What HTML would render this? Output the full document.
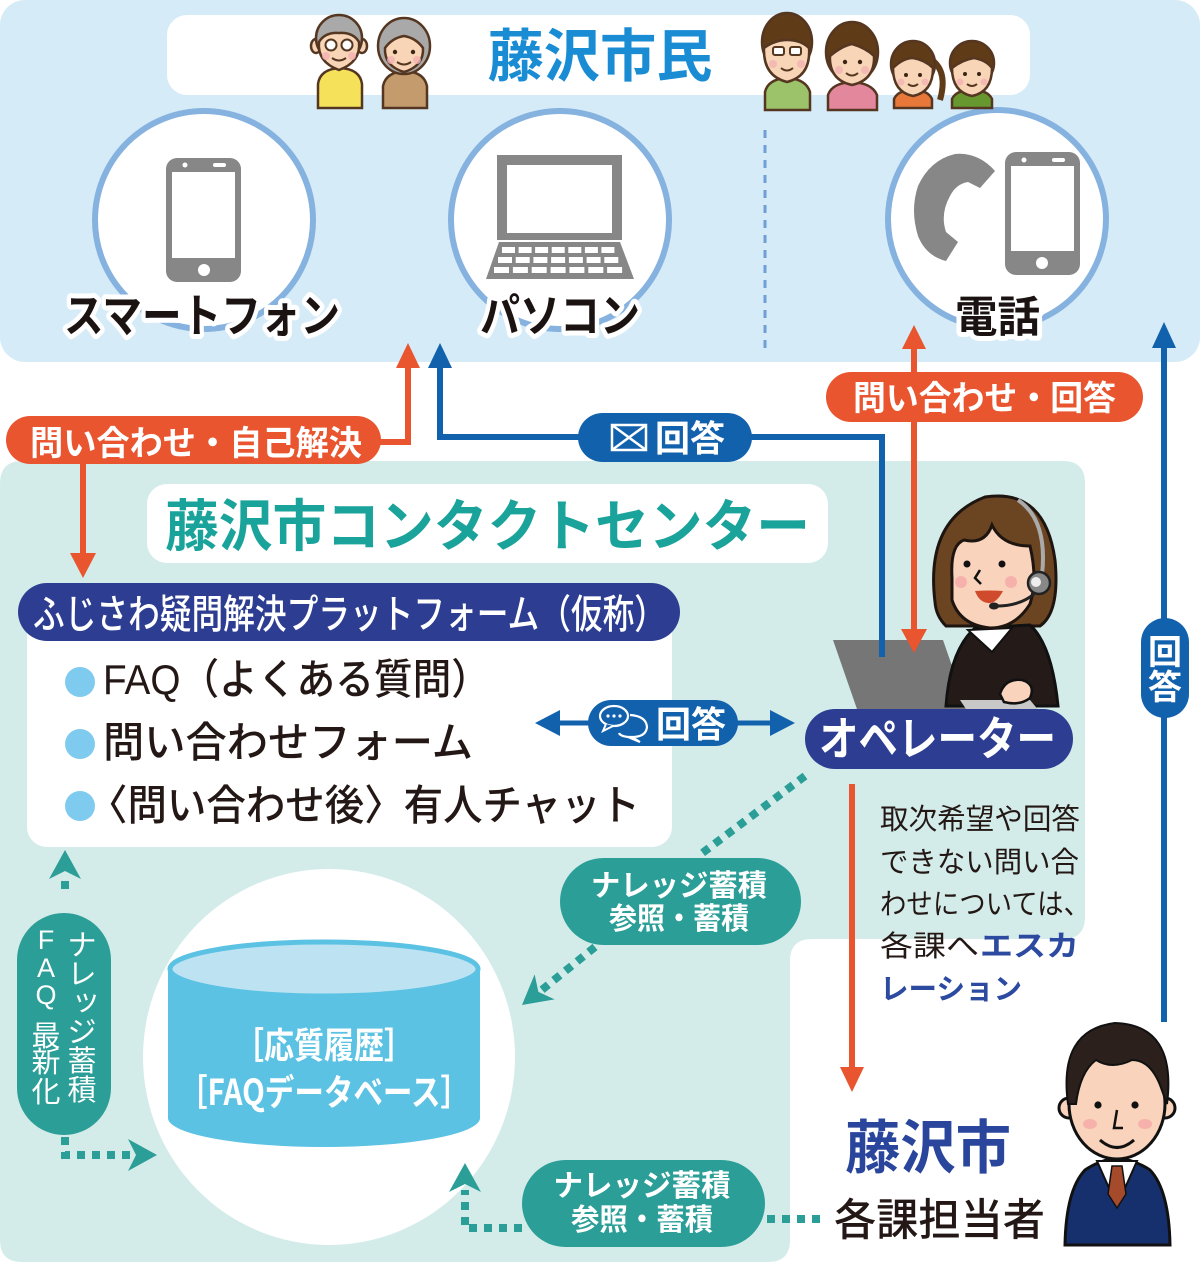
<!DOCTYPE html>
<html><head><meta charset="utf-8">
<style>
html,body{margin:0;padding:0;background:#fff;}
svg{display:block;}
text{font-family:"Liberation Sans","Noto Sans CJK JP",sans-serif;}
.j{font-family:"Noto Sans CJK JP",sans-serif;}
</style></head><body>
<svg width="1200" height="1264" viewBox="0 0 1200 1264" xmlns="http://www.w3.org/2000/svg">
<!-- TOP PANEL -->
<rect x="0" y="0" width="1200" height="362" rx="25" fill="#d5ebf8"/>
<rect x="167" y="15" width="863" height="80" rx="20" fill="#fff"/>
<text class="j" x="600" y="76" text-anchor="middle" font-size="57" font-weight="bold" fill="#1a8cd4" textLength="225" lengthAdjust="spacingAndGlyphs">藤沢市民</text>

<line x1="765" y1="130" x2="765" y2="350" stroke="#6f9fd6" stroke-width="3" stroke-dasharray="8 7"/>

<circle cx="204" cy="220" r="109" fill="#fff" stroke="#86b2e0" stroke-width="6"/>
<circle cx="560" cy="220" r="109" fill="#fff" stroke="#86b2e0" stroke-width="6"/>
<circle cx="997" cy="219" r="109" fill="#fff" stroke="#86b2e0" stroke-width="6"/>

<!-- smartphone icon -->
<rect x="166" y="158" width="75" height="124" rx="11" fill="#878787"/>
<rect x="172" y="172" width="63" height="86" fill="#fff"/>
<circle cx="204" cy="270" r="6" fill="#fff"/>
<circle cx="185" cy="165" r="2.5" fill="#fff"/>
<rect x="213" y="163" width="13" height="4" rx="2" fill="#fff"/>

<!-- laptop icon -->
<rect x="497" y="155" width="125" height="85" fill="#878787"/>
<rect x="507" y="165" width="105" height="68" fill="#fff"/>
<polygon points="499,242 620,242 634,279 486,279" fill="#878787"/>
<g fill="#fff">
<rect x="502" y="247" width="13" height="6"/><rect x="518.6" y="247" width="13" height="6"/><rect x="535.1" y="247" width="13" height="6"/><rect x="551.7" y="247" width="13" height="6"/><rect x="568.3" y="247" width="13" height="6"/><rect x="584.9" y="247" width="13" height="6"/><rect x="601.4" y="247" width="13" height="6"/>
<rect x="498" y="257" width="14" height="6"/><rect x="515.7" y="257" width="14" height="6"/><rect x="533.4" y="257" width="14" height="6"/><rect x="551.1" y="257" width="14" height="6"/><rect x="568.9" y="257" width="14" height="6"/><rect x="586.6" y="257" width="14" height="6"/><rect x="604.3" y="257" width="14" height="6"/>
<rect x="494" y="267" width="15" height="6"/><rect x="512.9" y="267" width="15" height="6"/><rect x="531.7" y="267" width="15" height="6"/><rect x="550.6" y="267" width="15" height="6"/><rect x="569.4" y="267" width="15" height="6"/><rect x="588.3" y="267" width="15" height="6"/><rect x="607.1" y="267" width="15" height="6"/>
</g>

<!-- phone icons -->
<path d="M995 171 L980 188 L968 182 Q956 184 950 196 Q940 214 946 232 L958 242 L946 261 Q926 256 918 236 Q910 210 918 186 Q930 160 955 154 Q978 152 995 171 Z" fill="#878787"/>
<rect x="1005" y="152" width="75" height="123" rx="11" fill="#878787"/>
<rect x="1011" y="166" width="63" height="85" fill="#fff"/>
<circle cx="1042" cy="263" r="6" fill="#fff"/>
<circle cx="1024" cy="160" r="2.5" fill="#fff"/>
<rect x="1052" y="158" width="13" height="4" rx="2" fill="#fff"/>

<!-- labels -->
<g font-weight="bold" fill="#1a1311" stroke="#fff" stroke-width="10" paint-order="stroke" stroke-linejoin="round" class="j">
<text class="j" x="64" y="332" font-size="46" textLength="276" lengthAdjust="spacingAndGlyphs">スマートフォン</text>
<text class="j" x="480" y="332" font-size="46" textLength="160" lengthAdjust="spacingAndGlyphs">パソコン</text>
<text class="j" x="955" y="332" font-size="43" textLength="85" lengthAdjust="spacingAndGlyphs">電話</text>
</g>

<!-- people top -->
<g stroke="#553620" stroke-width="2.5">
<path d="M318 108 L318 84 Q320 69 340 68 Q360 69 362 84 L362 108 Z" fill="#f6e25a"/>
<ellipse cx="316" cy="46" rx="5" ry="7" fill="#f9d5b8"/><ellipse cx="362" cy="46" rx="5" ry="7" fill="#f9d5b8"/>
<ellipse cx="339" cy="38" rx="23" ry="23" fill="#a9a9a9"/>
<path d="M319 42 Q325 32 339 33 Q353 32 359 42 Q361 62 339 70 Q317 62 319 42 Z" fill="#f9d5b8"/>
<circle cx="331" cy="45" r="5.5" fill="#fff" stroke-width="2"/><circle cx="347" cy="45" r="5.5" fill="#fff" stroke-width="2"/>
<path d="M332 58 Q339 63 346 58" fill="none" stroke-width="2"/>
<path d="M383 108 L383 86 Q386 72 405 71 Q424 72 427 86 L427 108 Z" fill="#c49b6d"/>
<ellipse cx="404" cy="46" rx="26" ry="28" fill="#a9a9a9"/>
<path d="M385 48 Q392 38 404 36 Q416 38 423 48 Q424 66 404 72 Q384 66 385 48 Z" fill="#f9d5b8"/>
<path d="M397 62 Q404 67 411 62" fill="none" stroke-width="2"/>
<path d="M765 110 L765 92 Q768 79 787 78 Q806 79 810 92 L810 110 Z" fill="#9cc36a"/>
<ellipse cx="787" cy="42" rx="25" ry="29" fill="#603b18"/>
<path d="M764 48 Q775 40 787 40 Q801 40 809 48 Q811 76 787 82 Q763 76 764 48 Z" fill="#f9d5b8"/>
<rect x="773" y="47" width="11" height="8" rx="2" fill="#fff" stroke-width="2"/><rect x="790" y="47" width="11" height="8" rx="2" fill="#fff" stroke-width="2"/>
<path d="M781 68 Q787 73 793 68" fill="none" stroke-width="2"/>
<path d="M828 110 L828 95 Q832 83 852 82 Q872 83 877 95 L877 110 Z" fill="#e3879c"/>
<ellipse cx="852" cy="52" rx="26" ry="30" fill="#603b18"/>
<path d="M830 56 Q842 46 852 44 Q866 48 874 56 Q875 80 852 85 Q829 80 830 56 Z" fill="#f9d5b8"/>
<path d="M846 73 Q852 78 858 73" fill="none" stroke-width="2"/>
<path d="M932 60 Q948 72 940 100" fill="none" stroke="#603b18" stroke-width="6"/>
<path d="M894 108 L894 99 Q898 90 913 90 Q928 90 932 99 L932 108 Z" fill="#e8773a"/>
<ellipse cx="913" cy="64" rx="22" ry="23" fill="#603b18"/>
<path d="M893 68 Q903 58 913 58 Q925 60 933 68 Q933 92 913 96 Q893 92 893 68 Z" fill="#f9d5b8"/>
<path d="M908 84 Q913 88 918 84" fill="none" stroke-width="2"/>
<path d="M952 108 L952 99 Q956 90 972 90 Q988 90 992 99 L992 108 Z" fill="#66982f"/>
<ellipse cx="972" cy="63" rx="22" ry="22" fill="#603b18"/>
<path d="M952 68 Q962 60 974 58 Q986 60 992 68 Q992 92 972 96 Q952 92 952 68 Z" fill="#f9d5b8"/>
<path d="M967 84 Q972 88 977 84" fill="none" stroke-width="2"/>
</g>
<g fill="#3a2414">
<circle cx="395" cy="52" r="2.2"/><circle cx="413" cy="52" r="2.2"/>
<circle cx="845" cy="62" r="2.2"/><circle cx="860" cy="62" r="2.2"/>
<circle cx="906" cy="75" r="2"/><circle cx="920" cy="75" r="2"/>
<circle cx="965" cy="74" r="2"/><circle cx="979" cy="74" r="2"/>
</g>
<g fill="#f5b3b3" opacity="0.8">
<circle cx="326" cy="56" r="4"/><circle cx="352" cy="56" r="4"/>
<circle cx="391" cy="60" r="4"/><circle cx="417" cy="60" r="4"/>
<circle cx="773" cy="64" r="4"/><circle cx="801" cy="64" r="4"/>
<circle cx="839" cy="70" r="4"/><circle cx="865" cy="70" r="4"/>
<circle cx="901" cy="82" r="3.5"/><circle cx="925" cy="82" r="3.5"/>
<circle cx="960" cy="82" r="3.5"/><circle cx="984" cy="82" r="3.5"/>
</g>

<!-- CONTACT CENTER PANEL -->
<path d="M0 484 Q0 461 22 461 L1063 461 Q1085 461 1085 483 L1085 917 Q1085 939 1063 939 L812 939 Q790 939 790 961 L790 1240 Q790 1262 768 1262 L22 1262 Q0 1262 0 1240 Z" fill="#d4ece9"/>
<rect x="147" y="484" width="681" height="79" rx="20" fill="#fff"/>
<text class="j" x="165" y="546" font-size="56" font-weight="bold" fill="#1aa39a" textLength="645" lengthAdjust="spacingAndGlyphs">藤沢市コンタクトセンター</text>

<rect x="27" y="612" width="645" height="235" rx="20" fill="#fff"/>
<rect x="18" y="583" width="662" height="58" rx="29" fill="#2d3e92"/>
<text class="j" x="33" y="628" font-size="40" fill="#fff" font-weight="500" textLength="633" lengthAdjust="spacingAndGlyphs">ふじさわ疑問解決プラットフォーム（仮称）</text>

<circle cx="80" cy="682" r="15" fill="#7fcbef"/>
<circle cx="80" cy="744" r="15" fill="#7fcbef"/>
<circle cx="80" cy="806" r="15" fill="#7fcbef"/>
<g font-size="42" fill="#231815" font-weight="500">
<text x="103" y="694" textLength="387" lengthAdjust="spacingAndGlyphs">FAQ（よくある質問）</text>
<text class="j" x="103" y="757" textLength="370" lengthAdjust="spacingAndGlyphs">問い合わせフォーム</text>
<text class="j" x="88" y="820" textLength="552" lengthAdjust="spacingAndGlyphs">〈問い合わせ後〉有人チャット</text>
</g>

<!-- operator -->
<path d="M935 602 Q925 520 985 497 Q1045 488 1055 560 Q1060 612 1040 626 L946 626 Q936 616 935 602 Z" fill="#6b4522" stroke="#1e1410" stroke-width="3"/>
<polygon points="833,640 943,640 968,712 858,712" fill="#767676"/>
<path d="M946 706 Q950 650 975 628 L1030 625 Q1052 645 1058 706 Z" fill="#241a17" stroke="#111" stroke-width="3"/>
<polygon points="968,630 1012,628 992,652" fill="#fff" stroke="#111" stroke-width="2"/>
<path d="M952 578 Q950 545 964 540 Q985 545 992 525 Q1002 546 1030 546 Q1038 580 1030 604 Q1015 628 990 628 Q960 625 952 600 Z" fill="#f9d3bb" stroke="#1e1410" stroke-width="3"/>
<circle cx="967" cy="564" r="3.5" fill="#111"/><circle cx="1002" cy="564" r="3.5" fill="#111"/>
<path d="M980 570 L975 578 L981 584" fill="none" stroke="#111" stroke-width="2.5"/>
<path d="M975 591 Q990 590 1003 591 Q996 604 988 603 Q979 602 975 591 Z" fill="#d04a2c"/>
<circle cx="961" cy="582" r="6" fill="#f5a9a9" opacity="0.8"/><circle cx="1011" cy="582" r="6" fill="#f5a9a9" opacity="0.8"/>
<path d="M1018 500 Q1048 520 1042 575" fill="none" stroke="#aaa" stroke-width="4"/>
<circle cx="1039" cy="583" r="11" fill="#888" stroke="#222" stroke-width="2.5"/>
<circle cx="1036" cy="582" r="5" fill="#eee"/>
<path d="M1034 594 Q1020 606 996 606" fill="none" stroke="#222" stroke-width="3"/>
<ellipse cx="994" cy="606" rx="5" ry="3.5" fill="#222"/>
<polygon points="960,700 1030,700 1040,712 968,712" fill="#c8c8c8"/>
<path d="M1000 694 Q1005 678 1022 680 Q1036 684 1030 698 Q1020 706 1004 702 Z" fill="#f9d3bb" stroke="#111" stroke-width="2.5"/>

<!-- ORANGE / BLUE connectors -->
<g fill="none" stroke-width="6">
<path d="M380 442 L408 442 L408 365" stroke="#e8552f"/>
<path d="M83 464 L83 556" stroke="#e8552f"/>
<path d="M914 345 L914 632" stroke="#e8552f"/>
<path d="M852 784 L852 1070" stroke="#e8552f"/>
<path d="M440 365 L440 437 L882 437 L882 657" stroke="#1261ad"/>
<path d="M1164 345 L1164 1022" stroke="#1261ad"/>
<path d="M552 723 L780 723" stroke="#1261ad" stroke-width="5"/>
</g>
<g fill="#e8552f">
<polygon points="408,343 396,368 420,368"/>
<polygon points="83,578 70,553 96,553"/>
<polygon points="914,325 902,349 926,349"/>
<polygon points="914,653 901,629 927,629"/>
<polygon points="852,1092 840,1067 864,1067"/>
</g>
<g fill="#1261ad">
<polygon points="440,343 428,368 452,368"/>
<polygon points="1164,322 1152,348 1176,348"/>
<polygon points="535,723 560,710 560,736"/>
<polygon points="795,723 770,710 770,736"/>
</g>

<!-- pills -->
<rect x="6" y="416" width="375" height="48" rx="24" fill="#e8552f"/>
<text class="j" x="30" y="455" font-size="34" font-weight="bold" fill="#fff" textLength="332" lengthAdjust="spacingAndGlyphs">問い合わせ・自己解決</text>

<rect x="578" y="413" width="174" height="49" rx="24.5" fill="#1261ad"/>
<rect x="612" y="425" width="34" height="25" fill="none" stroke="#fff" stroke-width="2.5"/>
<path d="M612 425 L646 450 M646 425 L612 450" stroke="#fff" stroke-width="2.5"/>
<text class="j" x="655" y="451" font-size="36" font-weight="bold" fill="#fff" textLength="70" lengthAdjust="spacingAndGlyphs">回答</text>

<rect x="826" y="372" width="317" height="50" rx="25" fill="#e8552f"/>
<text class="j" x="853" y="410" font-size="34" font-weight="bold" fill="#fff" textLength="263" lengthAdjust="spacingAndGlyphs">問い合わせ・回答</text>

<rect x="1141" y="618" width="48" height="100" rx="24" fill="#1261ad"/>
<text class="j" x="1165" y="664" font-size="34" font-weight="bold" fill="#fff" text-anchor="middle">回</text>
<text class="j" x="1165" y="699" font-size="34" font-weight="bold" fill="#fff" text-anchor="middle">答</text>

<rect x="588" y="700" width="150" height="46" rx="23" fill="#1261ad"/>
<ellipse cx="614" cy="716" rx="14" ry="10" fill="none" stroke="#fff" stroke-width="2.2"/>
<path d="M606 724 L603 731 L613 726" fill="#1261ad" stroke="#fff" stroke-width="2"/>
<path d="M630 715 Q646 716 647 727 Q646 737 632 737 L640 742 L628 737 Q620 736 619 733" fill="none" stroke="#fff" stroke-width="2.2"/>
<circle cx="608" cy="716" r="1.6" fill="#fff"/><circle cx="614" cy="716" r="1.6" fill="#fff"/><circle cx="620" cy="716" r="1.6" fill="#fff"/>
<text class="j" x="656" y="737" font-size="36" font-weight="bold" fill="#fff" textLength="70" lengthAdjust="spacingAndGlyphs">回答</text>

<rect x="805" y="709" width="268" height="60" rx="30" fill="#2d3e92"/>
<text class="j" x="819" y="755" font-size="46" font-weight="bold" fill="#fff" textLength="237" lengthAdjust="spacingAndGlyphs">オペレーター</text>

<!-- DATABASE -->
<ellipse cx="329" cy="1057" rx="186" ry="188" fill="#fff"/>
<path d="M168 969 L168 1118 A156 29 0 0 0 480 1118 L480 969 Z" fill="#5bc2e3"/>
<ellipse cx="324" cy="969" rx="154" ry="27" fill="#bde3f2" stroke="#5bc2e3" stroke-width="5"/>
<text class="j" x="324" y="1058" font-size="36" font-weight="bold" fill="#fff" text-anchor="middle" textLength="180" lengthAdjust="spacingAndGlyphs">［応質履歴］</text>
<text class="j" x="324" y="1105" font-size="36" font-weight="bold" fill="#fff" text-anchor="middle" textLength="292" lengthAdjust="spacingAndGlyphs">［FAQデータベース］</text>

<!-- teal dotted connectors -->
<g fill="none" stroke="#2a9e97" stroke-width="8" stroke-dasharray="8 7">
<path d="M65 889 L65 880"/>
<path d="M65 1137 L65 1155 L130 1155"/>
<path d="M805 776 L697 857"/>
<path d="M595 947 L538 993"/>
<path d="M522 1228 L465 1228 L465 1190"/>
<path d="M767 1219 L827 1219"/>
</g>
<g fill="#2a9e97">
<polygon points="65,850 81,879 65,871 49,879"/>
<polygon points="157,1155 128,1139 136,1155 128,1171"/>
<polygon points="465,1163 481,1192 465,1184 449,1192"/>
<g transform="translate(522,1005) rotate(141.3)"><polygon points="0,0 -29,-16 -21,0 -29,16"/></g>
</g>

<rect x="560" y="858" width="241" height="87" rx="43.5" fill="#2a9e97"/>
<text class="j" x="679" y="896" font-size="30" font-weight="bold" fill="#fff" text-anchor="middle" textLength="176" lengthAdjust="spacingAndGlyphs">ナレッジ蓄積</text>
<text class="j" x="679" y="929" font-size="30" font-weight="bold" fill="#fff" text-anchor="middle" textLength="140" lengthAdjust="spacingAndGlyphs">参照・蓄積</text>

<rect x="522" y="1160" width="243" height="87" rx="43.5" fill="#2a9e97"/>
<text class="j" x="642" y="1196" font-size="30" font-weight="bold" fill="#fff" text-anchor="middle" textLength="177" lengthAdjust="spacingAndGlyphs">ナレッジ蓄積</text>
<text class="j" x="642" y="1230" font-size="30" font-weight="bold" fill="#fff" text-anchor="middle" textLength="142" lengthAdjust="spacingAndGlyphs">参照・蓄積</text>

<rect x="17" y="913" width="94" height="222" rx="47" fill="#2a9e97"/>
<g class="j" font-size="29" fill="#fff" text-anchor="middle">
<text class="j" x="82" y="955">ナ</text>
<text class="j" x="82" y="984">レ</text>
<text class="j" x="86" y="1010">ッ</text>
<text class="j" x="82" y="1042">ジ</text>
<text class="j" x="82" y="1071">蓄</text>
<text class="j" x="82" y="1100">積</text>
<text x="46" y="949" font-size="27">F</text>
<text x="46" y="977" font-size="27">A</text>
<text x="46" y="1004" font-size="27">Q</text>
<text class="j" x="46" y="1046">最</text>
<text class="j" x="46" y="1072">新</text>
<text class="j" x="46" y="1102">化</text>
</g>

<!-- escalation text -->
<g class="j" font-size="29" fill="#231815">
<text class="j" x="880" y="829" textLength="200" lengthAdjust="spacingAndGlyphs">取次希望や回答</text>
<text class="j" x="880" y="872" textLength="199" lengthAdjust="spacingAndGlyphs">できない問い合</text>
<text class="j" x="880" y="914" textLength="210" lengthAdjust="spacingAndGlyphs">わせについては、</text>
<text class="j" x="880" y="956" textLength="99" lengthAdjust="spacingAndGlyphs">各課へ</text>
<text class="j" x="980" y="956" textLength="99" lengthAdjust="spacingAndGlyphs" fill="#2c4aa0" font-weight="bold">エスカ</text>
<text class="j" x="880" y="999" textLength="142" lengthAdjust="spacingAndGlyphs" fill="#2c4aa0" font-weight="bold">レーション</text>
</g>

<text class="j" x="845" y="1168" font-size="58" font-weight="bold" fill="#2a459c" textLength="166" lengthAdjust="spacingAndGlyphs">藤沢市</text>
<text class="j" x="834" y="1235" font-size="44" fill="#231815" font-weight="500" textLength="211" lengthAdjust="spacingAndGlyphs">各課担当者</text>

<!-- man -->
<path d="M1065 1245 Q1066 1190 1085 1170 Q1100 1160 1117 1158 Q1135 1160 1150 1170 Q1169 1190 1170 1245 Z" fill="#16306e" stroke="#111" stroke-width="3"/>
<polygon points="1097,1161 1137,1161 1117,1206" fill="#fff" stroke="#111" stroke-width="2"/>
<polygon points="1112,1166 1122,1166 1126,1194 1117,1208 1108,1194" fill="#a64a2c" stroke="#111" stroke-width="1.5"/>
<circle cx="1069" cy="1108" r="10" fill="#f9d3bb" stroke="#111" stroke-width="3"/>
<circle cx="1165" cy="1108" r="10" fill="#f9d3bb" stroke="#111" stroke-width="3"/>
<ellipse cx="1117" cy="1104" rx="48" ry="55" fill="#f9d3bb" stroke="#111" stroke-width="3"/>
<path d="M1068 1104 Q1058 1030 1115 1023 Q1177 1025 1167 1104 L1160 1085 Q1150 1060 1132 1060 Q1112 1070 1096 1060 Q1080 1072 1076 1104 Z" fill="#2b201c" stroke="#111" stroke-width="2"/>
<circle cx="1098" cy="1105" r="3.6" fill="#111"/><circle cx="1135" cy="1105" r="3.6" fill="#111"/>
<path d="M1117 1110 L1114 1128 L1123 1128" fill="none" stroke="#111" stroke-width="2.5"/>
<path d="M1100 1140 Q1117 1155 1134 1140" fill="none" stroke="#111" stroke-width="3"/>
<ellipse cx="1090" cy="1124" rx="7" ry="5" fill="#f5a9a9" opacity="0.8"/>
<ellipse cx="1145" cy="1124" rx="7" ry="5" fill="#f5a9a9" opacity="0.8"/>
</svg>
</body></html>
